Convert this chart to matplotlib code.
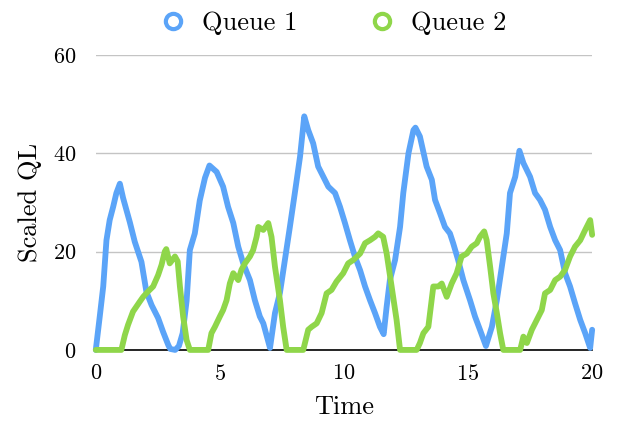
import matplotlib
matplotlib.use("Agg")
import matplotlib.pyplot as plt
from matplotlib.lines import Line2D

plt.rcParams["font.family"] = ["cmr10", "DejaVu Serif"]
plt.rcParams["mathtext.fontset"] = "cm"
plt.rcParams["axes.formatter.use_mathtext"] = True

# Queue 1 (blue)
T1 = [0, 0.16, 0.3, 0.43, 0.56, 0.7, 0.83, 0.97, 1.1, 1.37, 1.57, 1.84, 2.04, 2.25, 2.51,
      2.71, 2.92, 3.0, 3.2, 3.35, 3.5, 3.66, 3.79, 3.99, 4.19, 4.4, 4.58, 4.87, 5.13, 5.33,
      5.54, 5.74, 5.94, 6.21, 6.41, 6.61, 6.75, 7.02, 7.22, 7.42, 7.62, 7.82, 8.02, 8.23,
      8.4, 8.56, 8.76, 8.96, 9.17, 9.37, 9.64, 9.84, 10.04, 10.24, 10.44, 10.65, 10.85,
      11.05, 11.25, 11.45, 11.6, 11.72, 11.85, 12.06, 12.26, 12.39, 12.6, 12.8, 12.88,
      13.06, 13.33, 13.54, 13.67, 13.87, 14.07, 14.27, 14.4, 14.6, 14.81, 15.08, 15.28,
      15.48, 15.72, 15.96, 16.16, 16.36, 16.56, 16.69, 16.9, 17.07, 17.23, 17.5, 17.7,
      17.9, 18.1, 18.31, 18.51, 18.71, 18.91, 19.11, 19.31, 19.52, 19.72, 19.92, 20.0]
Q1 = [0, 6.8, 12.9, 22.3, 26.4, 29.1, 31.9, 33.8, 30.9, 26, 22, 17.9, 11.8, 9.1, 6.5,
      3.7, 1.0, 0.2, 0.0, 0.8, 3.4, 10, 20.3, 23.7, 30.4, 35, 37.5, 36.2, 33.2, 29.1,
      25.8, 21, 17.6, 14.2, 10.1, 6.8, 5.4, 0.4, 7.5, 11.6, 18.3, 25, 31.9, 39.3,
      47.5, 44.7, 42, 37.3, 35.2, 33.2, 31.9, 29.1, 25.8, 22.3, 19, 16.2, 12.9,
      10.1, 7.5, 4.7, 3.2, 8.8, 14.2, 18.3, 25, 31.9, 40, 44.7, 45.2,
      43.4, 37.3, 34.6, 30.5, 27.8, 25, 23.7, 21.7, 18.3, 14.2, 10.1, 6.8,
      4.1, 0.8, 4.7, 10.1, 16.9, 23.7, 31.9, 35.2, 40.5, 38, 35.2, 31.9,
      30.5, 28.5, 25, 22.3, 20.3, 15.6, 12.9, 9.5, 6.1, 3.4, 0.4, 4.1]

# Queue 2 (green)
T2 = [0, 1.03, 1.17, 1.3, 1.5, 1.77, 1.91, 2.11, 2.31, 2.51, 2.65, 2.78, 2.84, 2.98,
      3.19, 3.3, 3.39, 3.52, 3.66, 3.79, 4.53, 4.66, 4.8, 5.0, 5.13, 5.27, 5.4, 5.54,
      5.74, 5.87, 6.01, 6.21, 6.34, 6.48, 6.55, 6.75, 6.95, 7.08, 7.22, 7.42, 7.55,
      7.69, 8.36, 8.56, 8.7, 8.9, 9.1, 9.3, 9.5, 9.7, 9.97, 10.17, 10.38, 10.65, 10.85,
      11.05, 11.25, 11.38, 11.58, 11.72, 11.92, 12.12, 12.26, 12.93, 13.06, 13.2, 13.4,
      13.6, 13.8, 13.94, 14.14, 14.34, 14.54, 14.74, 14.95, 15.15, 15.35, 15.48, 15.65,
      15.75, 15.89, 16.02, 16.16, 16.29, 16.42, 17.1, 17.23, 17.37, 17.57, 17.77, 17.97,
      18.1, 18.31, 18.51, 18.71, 18.91, 19.11, 19.31, 19.52, 19.72, 19.92, 20.0]
Q2 = [0, 0, 3, 5.1, 7.8, 9.8, 10.8, 11.9, 12.9, 15.2, 17.3, 20, 20.5, 17.6,
      19, 18, 12.9, 6.8, 2, 0, 0, 3.4, 4.7, 6.8, 8.1, 10.1, 13.5, 15.6,
      14.2, 16.3, 17.6, 19, 20.3, 23, 25, 24.4, 25.8, 23, 16.9, 10.1, 4.7,
      0, 0, 4.1, 4.7, 5.4, 7.5, 11.5, 12.2, 13.9, 15.6, 17.6, 18.3, 19.6, 21.7,
      22.3, 23, 23.7, 23, 19.6, 12.9, 6.1, 0, 0, 1.4, 3.4, 4.7,
      12.9, 12.9, 13.5, 10.8, 13.5, 15.6, 19, 19.6, 21, 21.7, 23, 24.1,
      22.3, 16.9, 11.5, 7.5, 3.4, 0, 0, 2.7, 1.4, 4.1, 6.1, 8.1,
      11.5, 12.2, 14.2, 14.9, 16.3, 19, 21, 22.3, 24.4, 26.4, 23.4]

LABELS = ["Queue 1", "Queue 2"]
COLORS = ["#5ba4f8", "#8fd64a"]
X_TICKS = [0, 5, 10, 15, 20]
Y_TICKS = [0, 20, 40, 60]

fig = plt.figure(figsize=(6.22, 4.32), dpi=100)
ax = fig.add_axes([0.154, 0.19, 0.798, 0.683])

for t, q, c in zip([T1, T2], [Q1, Q2], COLORS):
    ax.plot(t, q, color=c, lw=4.2, solid_joinstyle="round", solid_capstyle="round",
            clip_on=False, zorder=3)

ax.set_xlim(0, 20)
ax.set_ylim(0, 60)
ax.set_xticks(X_TICKS)
ax.set_yticks(Y_TICKS)
ax.tick_params(length=0, labelsize=16)
ax.tick_params(axis="y", pad=14)
ax.tick_params(axis="x", pad=10)
for s in ["left", "right", "top"]:
    ax.spines[s].set_visible(False)
ax.spines["bottom"].set_color("black")
ax.spines["bottom"].set_linewidth(1.2)
ax.spines["bottom"].set_zorder(2)
ax.yaxis.grid(True, color="#c4c4c4", lw=1.0)
ax.set_axisbelow(True)

ax.set_xlabel("Time", fontsize=19, labelpad=8)
ax.set_ylabel("Scaled QL", fontsize=19, labelpad=8)

handles = [Line2D([], [], ls="none", marker="o", markersize=11, markerfacecolor="none",
                  markeredgecolor=c, markeredgewidth=3) for c in COLORS]
fig.legend(handles, LABELS, loc="upper center", bbox_to_anchor=(0.536, 1.028), ncol=2,
           frameon=False, fontsize=19, handletextpad=0.6, columnspacing=2.7,
           handlelength=1.0)

fig.savefig("out.png", dpi=100)
